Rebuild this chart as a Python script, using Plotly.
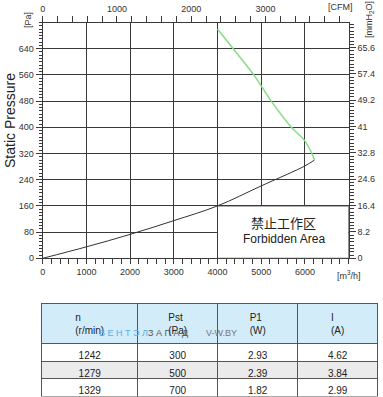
import plotly.graph_objects as go

# ---- data ----
fan_flow = [4000, 4360, 4830, 5230, 5690, 5990, 6160, 6220]      # m3/h
fan_pressure = [700, 640, 560, 480, 400, 360, 320, 300]          # Pa
sys_flow = [0, 1000, 2000, 3000, 4000, 5000, 6000, 6220]
sys_pressure = [0, 35, 73, 115, 160, 221, 282, 300]

x_ticks = [0, 1000, 2000, 3000, 4000, 5000, 6000]
cfm_ticks = [0, 1000, 2000, 3000]
pa_ticks = [0, 80, 160, 240, 320, 400, 480, 560, 640]
mm_ticks = [0, 8.2, 16.4, 24.6, 32.8, 41, 49.2, 57.4, 65.6]
mm_labels = ["0", "8.2", "16.4", "24.6", "32.8", "41", "49.2", "57.4", "65.6"]

table_header = ["n<br>(r/min)", "Pst<br>(Pa)", "P1<br>(W)", "I<br>(A)"]
col_n = ["1242", "1279", "1329"]
col_pst = ["300", "500", "700"]
col_p1 = ["2.93", "2.39", "1.82"]
col_i = ["4.62", "3.84", "2.99"]

X_MAX = 7000
Y_MAX = 720
M3H_PER_CFM = 1.699
MM_PER_PA = 0.101972

W, H = 383, 397
def px(x):
    return x / W
def py(y):
    return 1 - y / H

FONT = "Liberation Sans, Arial, Helvetica, sans-serif"
GRID = "#3a3a3a"
TXT = "#333333"

fig = go.Figure()

fig.add_trace(go.Scatter(x=sys_flow, y=sys_pressure, mode="lines",
                         line=dict(color="#333333", width=1, shape="spline"),
                         hoverinfo="skip", showlegend=False))
fig.add_trace(go.Scatter(x=fan_flow, y=fan_pressure, mode="lines",
                         line=dict(color="#86dc86", width=1.5, shape="spline", smoothing=0.8),
                         hoverinfo="skip", showlegend=False))
# helper trace so secondary axes are drawn
fig.add_trace(go.Scatter(x=[0], y=[0], xaxis="x2", yaxis="y2", mode="markers",
                         marker=dict(opacity=0), hoverinfo="skip", showlegend=False))

fig.add_trace(go.Table(
    domain=dict(x=[px(41.7), px(378.5)], y=[0, py(303.5)]),
    columnwidth=[96, 80, 80, 80],
    header=dict(values=table_header,
                fill_color="#d3ecfa",
                line=dict(color="#555555", width=1),
                font=dict(family=FONT, size=10, color="#222222"),
                align="center", height=35),
    cells=dict(values=[col_n, col_pst, col_p1, col_i],
               fill_color=[["#ffffff", "#ebebeb", "#ffffff"]] * 4,
               line=dict(color="#555555", width=1),
               font=dict(family=FONT, size=10, color="#222222"),
               align="center", height=17.5),
))

x_dom = [px(42.7), px(348.6)]
y_dom = [py(258.3), py(22.5)]

def ann(text, x, y, size=9, angle=0, color=TXT, family=FONT, ref="paper"):
    return dict(text=text, x=x, y=y, xref=ref, yref=ref, showarrow=False,
                xanchor="center", yanchor="middle", textangle=angle,
                font=dict(family=family, size=size, color=color))

fig.update_layout(
    template="none",
    width=W, height=H, autosize=False,
    margin=dict(l=0, r=0, t=0, b=0, pad=0),
    paper_bgcolor="white", plot_bgcolor="white",
    font=dict(family=FONT, size=9, color=TXT),
    xaxis=dict(domain=x_dom, range=[0, X_MAX], tickmode="array", tickvals=x_ticks,
               automargin=False,
               ticks="outside", ticklen=5, tickcolor=GRID, tickwidth=1,
               showgrid=True, gridcolor=GRID, gridwidth=1, zeroline=False,
               showline=True, linecolor=GRID, linewidth=1,
               minor=dict(tickmode="linear", tick0=0, dtick=200, ticks="outside",
                          ticklen=5, tickcolor=GRID, showgrid=False),
               tickfont=dict(size=9, color=TXT), fixedrange=True),
    xaxis2=dict(overlaying="x", side="top", anchor="y", automargin=False,
                range=[0, X_MAX / M3H_PER_CFM], tickmode="array", tickvals=cfm_ticks,
                ticks="outside", ticklen=6, tickcolor=GRID,
                showgrid=False, zeroline=False,
                showline=True, linecolor=GRID, linewidth=1,
                minor=dict(tickmode="linear", tick0=0, dtick=200, ticks="outside",
                           ticklen=6, tickcolor=GRID, showgrid=False),
                tickfont=dict(size=9, color=TXT), fixedrange=True),
    yaxis=dict(domain=y_dom, range=[0, Y_MAX], tickmode="array", tickvals=pa_ticks,
               automargin=False,
               ticks="outside", ticklen=6, tickcolor=GRID,
               showgrid=True, gridcolor=GRID, gridwidth=1, zeroline=False,
               showline=True, linecolor=GRID, linewidth=1,
               minor=dict(tickmode="linear", tick0=0, dtick=10, ticks="outside",
                          ticklen=3, tickcolor=GRID, showgrid=False),
               tickfont=dict(size=9, color=TXT), fixedrange=True),
    yaxis2=dict(overlaying="y", side="right", anchor="x", automargin=False,
                range=[0, Y_MAX * MM_PER_PA], tickmode="array", tickvals=mm_ticks,
                ticktext=mm_labels,
                ticks="outside", ticklen=6, tickcolor=GRID,
                showgrid=False, zeroline=False,
                showline=True, linecolor=GRID, linewidth=1,
                minor=dict(tickmode="linear", tick0=0, dtick=8.2 / 8, ticks="outside",
                           ticklen=4, tickcolor=GRID, showgrid=False),
                tickfont=dict(size=9, color=TXT), fixedrange=True),
    shapes=[
        dict(type="rect", xref="x", yref="y", x0=4000, x1=X_MAX, y0=0, y1=160,
             fillcolor="white", line=dict(color=GRID, width=1), layer="above"),
    ],
    annotations=[
        ann("禁止工作区", 5520, 108, size=13, color="#222222",
            family="Noto Sans CJK SC", ref=None),
        ann("Forbidden Area", 5520, 58, size=12, color="#222222", ref=None),
        ann("Static Pressure", px(10), py(121), size=14, angle=-90, color="#222222"),
        ann("[Pa]", px(28), py(20), angle=-90),
        ann("[mmH<sub>2</sub>O]", px(369), py(20), angle=-90),
        ann("[CFM]", px(340), py(7)),
        ann("[m<sup>3</sup>/h]", px(349), py(275)),
        ann("В Е Н Т Э Л", px(123), py(333), color="#5aaee6"),
        ann("З А П А Д", px(168), py(333), color="#555555"),
        ann("V-W.BY", px(221), py(333), color="#777777"),
    ],
)
# data-coordinate annotations
for a in fig.layout.annotations[:2]:
    a.xref = "x"
    a.yref = "y"

fig.write_html("out.html", config={"displayModeBar": False},
               post_script="document.body.style.margin='0';document.body.style.padding='0';")
